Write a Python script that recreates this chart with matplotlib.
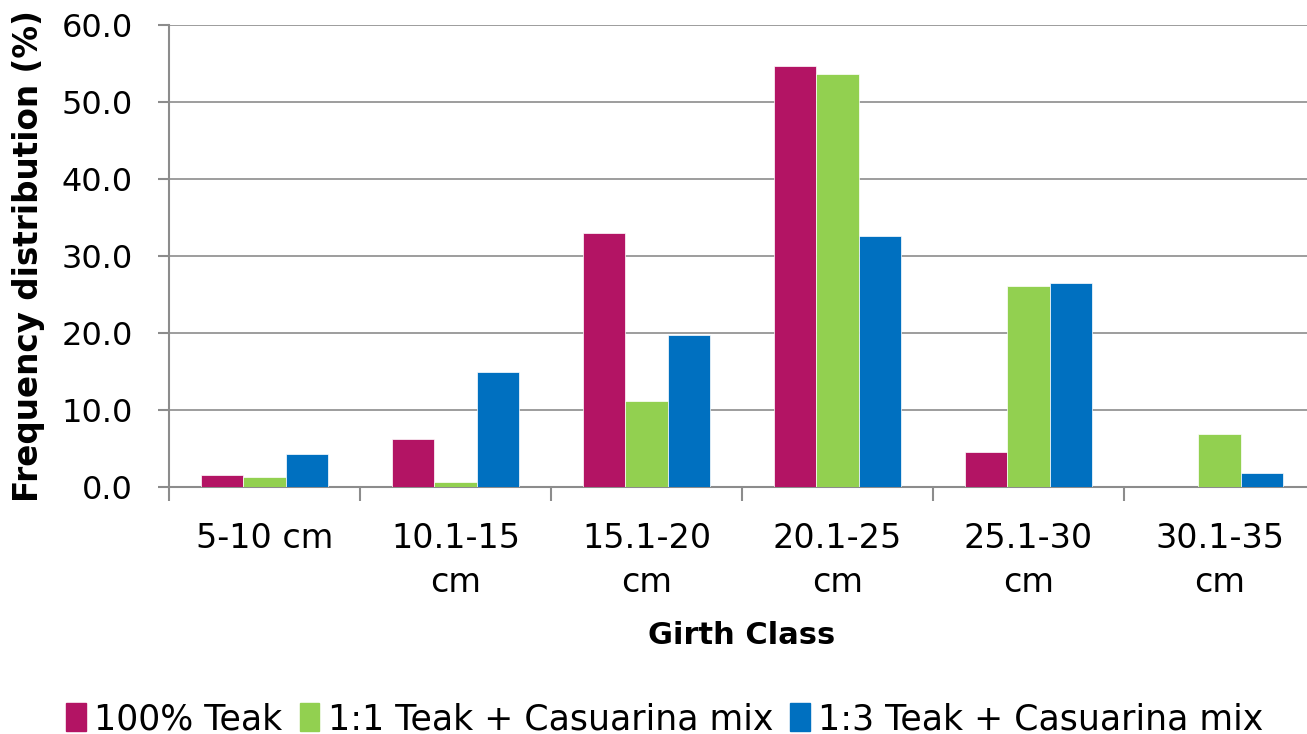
import numpy as np
import matplotlib
matplotlib.use("Agg")
import matplotlib.pyplot as plt
from matplotlib.patches import Patch

# --- Datos ---
categorias = ["5-10 cm", "10.1-15\ncm", "15.1-20\ncm", "20.1-25\ncm", "25.1-30\ncm", "30.1-35\ncm"]
teak = [1.5, 6.2, 33.0, 54.7, 4.5, 0.0]
mix_11 = [1.3, 0.6, 11.2, 53.7, 26.1, 6.9]
mix_13 = [4.3, 14.9, 19.8, 32.6, 26.5, 1.8]
series = ["100% Teak", "1:1 Teak + Casuarina mix", "1:3 Teak + Casuarina mix"]
colores = ["#B31464", "#92D050", "#0070C0"]

plt.rcParams['font.family'] = ['DejaVu Sans']
gris = "#8C8C8C"

fig = plt.figure(figsize=(13.07, 7.34), dpi=100)
W, H = 1307, 734
ax = fig.add_axes([169 / W, 1 - 487 / H, (1315 - 169) / W, (487 - 25) / H])

x = np.arange(len(categorias))
bw = 0.222
for i, (vals, c) in enumerate(zip([teak, mix_11, mix_13], colores)):
    ax.bar(x + (i - 1) * bw, vals, bw, color=c, edgecolor="white", linewidth=0.5, zorder=3)

ax.set_xlim(-0.5, len(categorias) - 0.5)
ax.set_ylim(0, 60)
ax.set_yticks(np.arange(0, 61, 10))
ax.set_yticklabels([f"{v:.1f}" for v in np.arange(0, 61, 10)], fontsize=23)
ax.yaxis.grid(True, color=gris, linewidth=1.2, zorder=0)

# ticks mayores en los bordes de categoria, etiquetas en los centros
ax.set_xticks(np.arange(-0.5, len(categorias), 1))
ax.set_xticklabels([])
ax.set_xticks(x, minor=True)
ax.set_xticklabels(categorias, minor=True, fontsize=24, linespacing=1.45)
ax.tick_params(axis="x", which="minor", length=0, pad=25)
ax.tick_params(axis="x", which="major", length=10, width=1.5, color=gris)
ax.tick_params(axis="y", length=8, width=1.5, color=gris, pad=18)

for s in ["top", "right"]:
    ax.spines[s].set_visible(False)
for s in ["left", "bottom"]:
    ax.spines[s].set_color(gris)
    ax.spines[s].set_linewidth(1.5)

ax.set_ylabel("Frequency distribution (%)", fontsize=23.5, fontweight="bold", labelpad=12)
fig.text(742 / W, 1 - 635 / H, "Girth Class", fontsize=22, fontweight="bold", ha="center", va="center")

handles = [Patch(color=c, label=s) for c, s in zip(colores, series)]
fig.legend(handles=handles, loc="center", bbox_to_anchor=(665 / W, 1 - 719 / H), ncol=3,
           frameon=False, fontsize=25, handlelength=0.55, handleheight=0.9,
           handletextpad=0.25, columnspacing=0.5)

fig.savefig("out.png", dpi=100)
